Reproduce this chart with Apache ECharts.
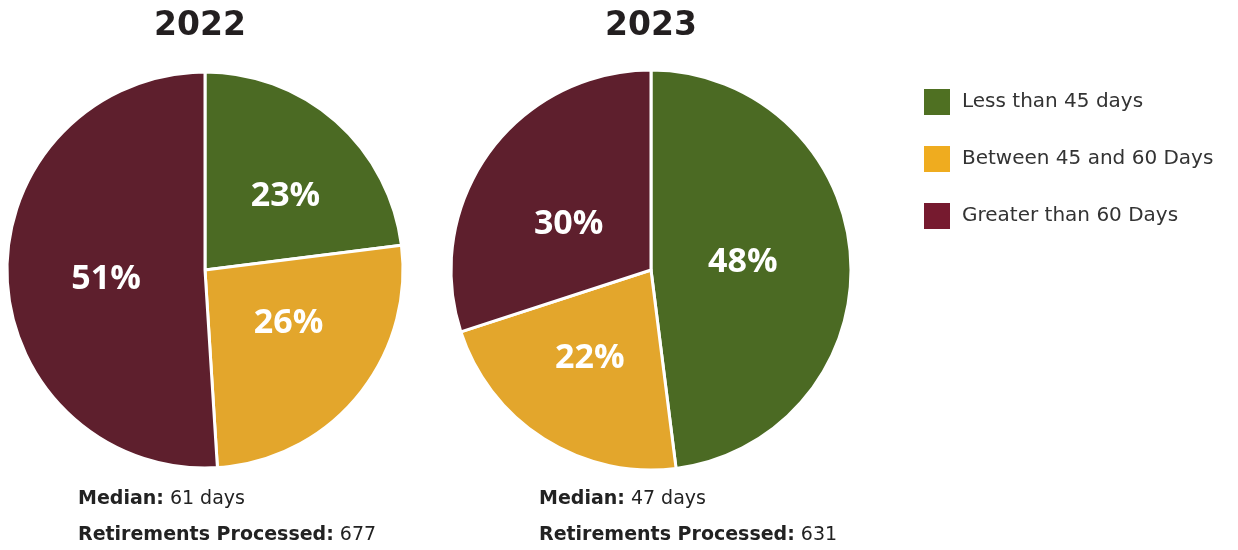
<!DOCTYPE html>
<html><head><meta charset="utf-8">
<script src="https://cdn.jsdelivr.net/npm/echarts@6/dist/echarts.min.js"></script>
<style>html,body{margin:0;padding:0;background:#fff}#c{width:1238px;height:550px}</style>
</head><body><div id="c"></div>
<script>
const categories = ['Less than 45 days', 'Between 45 and 60 Days', 'Greater than 60 Days'];
const years = ['2022', '2023'];
const values2022 = [23, 26, 51];
const values2023 = [48, 22, 30];
const medians = [61, 47];
const processed = [677, 631];

// styling only
const pieColors = ['#4b6a23', '#e3a62c', '#5e1f2d'];
const legendColors = ['#4f7022', '#efac1f', '#761a2f'];
const labelNudge2022 = [[13, 3], [5, -12], [3, 6]];
const labelNudge2023 = [[-11, -1], [-6, 1], [1, 15]];
const font = '"DejaVu Sans", sans-serif';

const chart = echarts.init(document.getElementById('c'));

function pieSeries(vals, center, radius, nudge) {
  return {
    type: 'pie',
    center: center,
    radius: radius,
    startAngle: 90,
    clockwise: true,
    animation: false,
    silent: true,
    itemStyle: { borderColor: '#fff', borderWidth: 3 },
    label: {
      show: true, position: 'inside', formatter: '{c}%',
      color: '#fff', fontSize: 34, fontWeight: 'bold', fontFamily: '"Open Sans", sans-serif'
    },
    labelLine: { show: false },
    data: categories.map((n, i) => ({
      name: n, value: vals[i],
      itemStyle: { color: pieColors[i] },
      label: { offset: nudge[i] }
    }))
  };
}

const bottomX = [78, 539];
const titles = [];
years.forEach((y, i) => {
  titles.push({
    left: bottomX[i], top: 490, padding: 0,
    text: '{b|Median:} ' + medians[i] + ' days',
    textStyle: { fontSize: 19, color: '#222', fontFamily: font, fontWeight: 'normal',
      rich: { b: { fontSize: 19, fontWeight: 'bold', color: '#222', fontFamily: font } } }
  });
  titles.push({
    left: bottomX[i], top: 526, padding: 0,
    text: '{b|Retirements Processed:} ' + processed[i],
    textStyle: { fontSize: 19, color: '#222', fontFamily: font, fontWeight: 'normal',
      rich: { b: { fontSize: 19, fontWeight: 'bold', color: '#222', fontFamily: font } } }
  });
});

const yearX = [200, 651];

chart.setOption({
  animation: false,
  title: titles,
  legend: {
    orient: 'vertical', left: 922, top: 87, padding: 0,
    itemWidth: 28, itemHeight: 28, itemGap: 27,
    icon: 'rect',
    selectedMode: false,
    textStyle: { fontSize: 20, color: '#333', fontFamily: font, padding: [0, 0, 0, 6] },
    data: categories.map((n, i) => ({ name: n, itemStyle: { color: legendColors[i] } }))
  },
  graphic: years.map((y, i) => ({
    type: 'text', x: yearX[i], y: 26,
    style: { text: y, textAlign: 'center', textVerticalAlign: 'middle',
      font: 'bold 33px "DejaVu Sans", sans-serif', fill: '#231f20' }
  })),
  series: [
    pieSeries(values2022, [205, 270], 198, labelNudge2022),
    pieSeries(values2023, [651, 270], 200, labelNudge2023)
  ]
});
</script></body></html>
